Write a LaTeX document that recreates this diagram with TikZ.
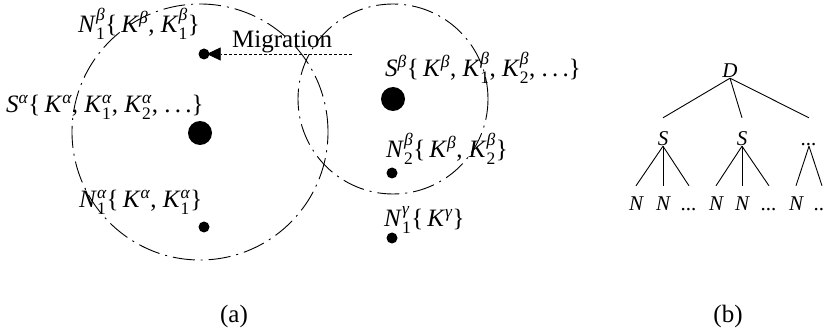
\documentclass[tikz,border=0pt]{standalone}
\usepackage{amsmath}
\usepackage{fontspec}
\setmainfont{Liberation Serif}
\usetikzlibrary{arrows.meta}
\newcommand{\SymSS}[3]{\textit{#1}$^{\text{\itshape #2}}_{\text{#3}}$}
\newcommand{\SymS}[2]{\textit{#1}$^{\text{\itshape #2}}$}
\newcommand{\Dots}{.\kern0.17em.\kern0.17em.}
\begin{document}
\begin{tikzpicture}[x=1pt,y=-1pt,
  every node/.style={font=\fontsize{25}{29}\selectfont},
  ring/.style={line width=0.9pt, dash pattern=on 22pt off 6pt on 2pt off 6pt},
  bigdot/.style={circle, fill=black, inner sep=0pt, minimum size=24pt},
  smalldot/.style={circle, fill=black, inner sep=0pt, minimum size=11pt},
  lbl/.style={anchor=base west, inner sep=0pt},
  tr/.style={anchor=base, inner sep=0pt, text depth=0pt, font=\fontsize{21}{24}\selectfont\itshape},
  trS/.style={tr, text height=28pt},
  trN/.style={tr, text height=25pt},
  edge/.style={line width=0.9pt}
]
\useasboundingbox (0,0) rectangle (825,331);
% circles
\node[circle, ring, draw, minimum size=256pt, inner sep=0pt] (ca) at (200,132) {};
\node[circle, ring, draw, minimum size=190pt, inner sep=0pt] (cb) at (393,99) {};
% dots
\node[smalldot] (n1b) at (204,54) {};
\node[bigdot] (sa) at (200,133) {};
\node[smalldot] (n1a) at (204,227) {};
\node[bigdot] (sb) at (393,99) {};
\node[smalldot] (n2b) at (392,173) {};
\node[smalldot] (n1g) at (392,238) {};
% labels
\node[lbl] (ln1b) at (78,33) {\SymSS{N}{β}{1}\{\,\SymS{K}{β}, \SymSS{K}{β}{1}\}};
\node[lbl] (lsa) at (6,113) {\SymS{S}{α}\{\,\SymS{K}{α}, \SymSS{K}{α}{1}, \SymSS{K}{α}{2}, \Dots\}};
\node[lbl] (ln1a) at (79,208) {\SymSS{N}{α}{1}\{\,\SymS{K}{α}, \SymSS{K}{α}{1}\}};
\node[lbl] (lsb) at (385,77) {\SymS{S}{β}\{\,\SymS{K}{β}, \SymSS{K}{β}{1}, \SymSS{K}{β}{2}, \Dots\}};
\node[lbl] (ln2b) at (386,158) {\SymSS{N}{β}{2}\{\,\SymS{K}{β}, \SymSS{K}{β}{2}\}};
\node[lbl] (ln1g) at (384,227) {\SymSS{N}{γ}{1}\{\,\SymS{K}{γ}\}};
% migration
\node[lbl] (mig) at (232,48) {Migration};
\coordinate (migstart) at (352,54);
\draw[line width=0.8pt, dash pattern=on 3pt off 2pt, -{Triangle[length=14pt,width=13pt,fill=black]}, shorten >=-3pt] (migstart) -- (n1b);
% captions
\node (capa) at (234,316) {(a)};
\node (capb) at (728,316) {(b)};
% tree
\node[tr] (D) at (730,78) {D};
\node[trS] (S1) at (663,146) {S};
\node[trS] (S2) at (742,146) {S};
\node[trS] (S3) at (809,146) {...};
\node[trN] (N1) at (636,211) {N};
\node[trN] (N2) at (663,211) {N};
\node[trN] (N3) at (689,211) {...};
\node[trN] (N4) at (716,211) {N};
\node[trN] (N5) at (742,211) {N};
\node[trN] (N6) at (769,211) {...};
\node[trN] (N7) at (796,211) {N};
\node[trN] (N8) at (822,211) {...};
\foreach \c in {S1,S2,S3} \draw[edge] (D.south) -- (\c.north);
\foreach \c in {N1,N2,N3} \draw[edge] (S1.south) -- (\c.north);
\foreach \c in {N4,N5,N6} \draw[edge] (S2.south) -- (\c.north);
\foreach \c in {N7,N8} \draw[edge] (S3.south) -- (\c.north);
\end{tikzpicture}
\end{document}
